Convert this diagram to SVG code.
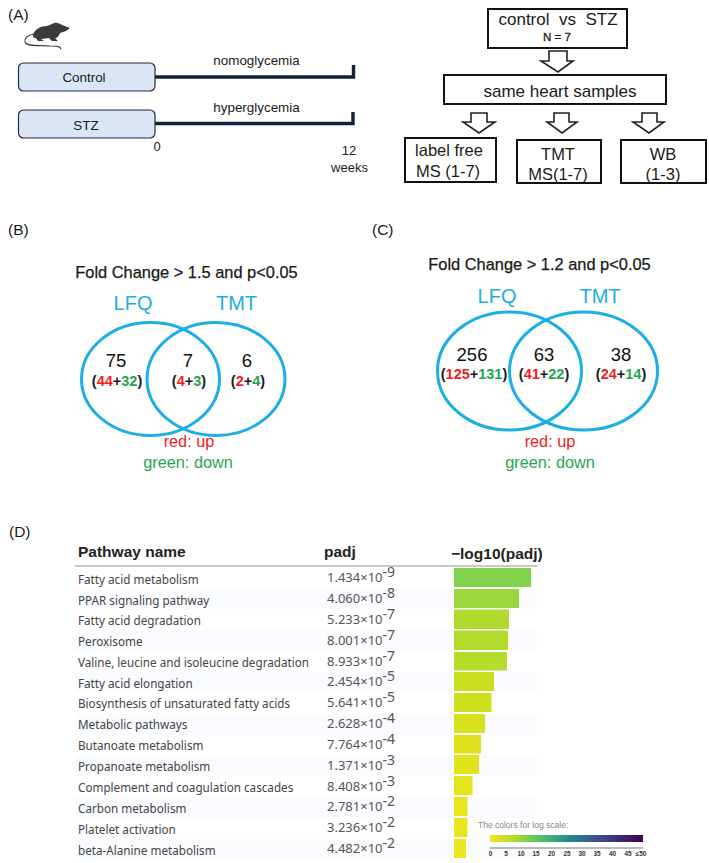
<svg xmlns="http://www.w3.org/2000/svg" width="709" height="863" viewBox="0 0 709 863">
<style>
text{font-family:"Liberation Sans",Arial,sans-serif;fill:#1a1a1a;white-space:pre}
.m{text-anchor:middle}
.pl{font-size:15.5px}
.gr{fill:#dbe5f5;stroke:#1d2a44;stroke-width:1.2}
.box{fill:#fff;stroke:#111;stroke-width:2}
.t13{font-size:13.4px}
.t17{font-size:17px}
.line{fill:none;stroke:#14213d;stroke-width:3.4}
.harrow{fill:#fff;stroke:#222;stroke-width:1.6}
.venn{fill:none;stroke:#1caee4;stroke-width:3}
.vl{font-size:20px;fill:#1caee4}
.ti{font-size:16.4px;stroke:#111;stroke-width:.25}
.n{font-size:18.500px;fill:#111}
.s{font-size:14.500px;font-weight:bold}
.r{fill:#f01c24}.g{fill:#1fa750}
.lr{font-size:16.300px;fill:#f01c24}.lg{font-size:16.300px;fill:#1fa750}
.h{font-size:15.500px;font-weight:bold;fill:#222}
.p{font-family:"Noto Sans","Open Sans",sans-serif;font-size:11.7px;fill:#444}
.v{font-family:"Noto Sans","Open Sans",sans-serif;font-size:13px;fill:#555}
.e{font-size:14px;fill:#555}
.tick{font-size:6.5px;font-weight:bold;fill:#333;text-anchor:middle}
</style>
<defs>
<linearGradient id="scale" x1="0" x2="1" y1="0" y2="0">
<stop offset="0" stop-color="#f5e524"/><stop offset=".15" stop-color="#b5dc2b"/><stop offset=".3" stop-color="#5ec962"/><stop offset=".5" stop-color="#21918c"/><stop offset=".7" stop-color="#3b528b"/><stop offset="1" stop-color="#440154"/>
</linearGradient>
</defs>
<rect width="709" height="863" fill="#fff"/>

<g id="panel-labels">
<text class="pl" x="8" y="20">(A)</text>
<text class="pl" x="8" y="235">(B)</text>
<text class="pl" x="372" y="235">(C)</text>
<text class="pl" x="9" y="537">(D)</text>
</g>

<g id="mouse">
<path fill="#3a3a3c" d="M33 36C34 29 41 26 47 26C50 25 52 24 54 23C57 22 60 24 62 25L70 28L66 31L60 33C59 36 57 38 55 38L58 41L52 41L49 38L41 39L44 41L38 41L36 38C34 38 33 37 33 36Z"/>
<path fill="none" stroke="#3a3a3c" stroke-width="1.1" d="M34 34C27 35 24 39 25 42C27 47 40 45 50 46C56 46 60 46 61 49"/>
</g>

<g id="connectors">
<path class="line" d="M155 77H353.500V65"/>
<path class="line" d="M155 123.500H353V112"/>
<polygon class="harrow" points="549,51 567,51 567,61 573,61 558,72 541,61 549,61"/>
<polygon class="harrow" points="471,113 487,113 487,122 495,122 479,133 463,122 471,122"/>
<polygon class="harrow" points="554,113 569,113 569,122 577,122 562,133 547,122 554,122"/>
<polygon class="harrow" points="642,113 657,113 657,122 664,122 649,133 633,122 642,122"/>
</g>

<g id="control">
<rect class="gr" x="18.500" y="63" width="136.500" height="28" rx="5"/>
<text class="m t13" x="84" y="82">Control</text>
</g>
<g id="stz">
<rect class="gr" x="18.500" y="110" width="136.500" height="28" rx="5"/>
<text class="m t13" x="86" y="130">STZ</text>
</g>
<g id="timeline-labels">
<text class="m t13" x="256.500" y="65">nomoglycemia</text>
<text class="m t13" x="256.500" y="112">hyperglycemia</text>
<text class="m" font-size="13" x="157" y="151">0</text>
<text class="m" font-size="13" x="349" y="155">12</text>
<text class="m" font-size="13" x="349.500" y="172">weeks</text>
</g>

<g id="control-vs-stz">
<rect class="box" x="488" y="9" width="139" height="39"/>
<text class="m" font-size="17" x="558" y="25">control  vs  STZ</text>
<text class="m" font-size="11.500" x="557" y="41" stroke="#1a1a1a" stroke-width=".3">N = 7</text>
</g>
<g id="same-heart-samples">
<rect class="box" x="444" y="75" width="222" height="29"/>
<text class="m t17" x="560" y="97">same heart samples</text>
</g>
<g id="label-free">
<rect class="box" x="405" y="138" width="91" height="44"/>
<text class="m" font-size="16.500" x="449" y="156">label free</text>
<text class="m" font-size="16.500" x="448" y="177">MS (1-7)</text>
</g>
<g id="tmt">
<rect class="box" x="517" y="140" width="84" height="43"/>
<text class="m" font-size="16.500" x="558" y="160">TMT</text>
<text class="m" font-size="16.500" x="558" y="180">MS(1-7)</text>
</g>
<g id="wb">
<rect class="box" x="621" y="140" width="85" height="43"/>
<text class="m" font-size="16.500" x="663" y="160">WB</text>
<text class="m" font-size="16.500" x="663" y="180">(1-3)</text>
</g>

<g id="venn-b">
<text class="m ti" x="186.500" y="278">Fold Change &gt; 1.5 and p&lt;0.05</text>
<text class="m vl" x="133" y="310">LFQ</text>
<text class="m vl" x="236.500" y="310">TMT</text>
<ellipse class="venn" cx="150.500" cy="379" rx="69" ry="56.500"/>
<ellipse class="venn" cx="216" cy="379" rx="69" ry="56.500"/>
<text class="m n" x="116" y="367">75</text>
<text class="m n" x="188" y="367">7</text>
<text class="m n" x="247" y="367">6</text>
<text class="m s" x="117" y="386">(<tspan class="r">44</tspan>+<tspan class="g">32</tspan>)</text>
<text class="m s" x="189" y="386">(<tspan class="r">4</tspan>+<tspan class="g">3</tspan>)</text>
<text class="m s" x="248" y="386">(<tspan class="r">2</tspan>+<tspan class="g">4</tspan>)</text>
<text class="m lr" x="189" y="447">red: up</text>
<text class="m lg" x="188" y="468">green: down</text>
</g>

<g id="venn-c">
<text class="m ti" x="539.500" y="270">Fold Change &gt; 1.2 and p&lt;0.05</text>
<text class="m vl" x="497" y="303">LFQ</text>
<text class="m vl" x="600" y="303">TMT</text>
<ellipse class="venn" cx="509.500" cy="371" rx="72" ry="59"/>
<ellipse class="venn" cx="583.500" cy="371" rx="74" ry="59"/>
<text class="m n" x="472" y="361">256</text>
<text class="m n" x="544" y="361">63</text>
<text class="m n" x="621" y="361">38</text>
<text class="m s" x="474" y="379">(<tspan class="r">125</tspan>+<tspan class="g">131</tspan>)</text>
<text class="m s" x="544" y="379">(<tspan class="r">41</tspan>+<tspan class="g">22</tspan>)</text>
<text class="m s" x="621" y="379">(<tspan class="r">24</tspan>+<tspan class="g">14</tspan>)</text>
<text class="m lr" x="550" y="447">red: up</text>
<text class="m lg" x="550" y="468">green: down</text>
</g>

<g id="pathway-table">
<g fill="#f9fbfe">
<rect x="75" y="589" width="462" height="20"/>
<rect x="75" y="630" width="462" height="21"/>
<rect x="75" y="672" width="462" height="21"/>
<rect x="75" y="714" width="462" height="21"/>
<rect x="75" y="755" width="462" height="21"/>
<rect x="75" y="797" width="462" height="21"/>
<rect x="75" y="839" width="462" height="19"/>
</g>
<rect x="75" y="565" width="462" height="2" fill="#c8c8ca"/>
<text class="h" x="78" y="557">Pathway name</text>
<text class="h" x="324" y="557">padj</text>
<text class="h" x="451" y="559">−log10(padj)</text>
<g>
<text class="p" x="78" y="584">Fatty acid metabolism</text>
<text class="p" x="78" y="605">PPAR signaling pathway</text>
<text class="p" x="78" y="625">Fatty acid degradation</text>
<text class="p" x="78" y="646">Peroxisome</text>
<text class="p" x="78" y="667">Valine, leucine and isoleucine degradation</text>
<text class="p" x="78" y="688">Fatty acid elongation</text>
<text class="p" x="78" y="708">Biosynthesis of unsaturated fatty acids</text>
<text class="p" x="78" y="729">Metabolic pathways</text>
<text class="p" x="78" y="750">Butanoate metabolism</text>
<text class="p" x="78" y="771">Propanoate metabolism</text>
<text class="p" x="78" y="792">Complement and coagulation cascades</text>
<text class="p" x="78" y="813">Carbon metabolism</text>
<text class="p" x="78" y="834">Platelet activation</text>
<text class="p" x="78" y="855">beta-Alanine metabolism</text>
</g>
<g>
<text class="v" x="327" y="582">1.434×10<tspan class="e" dy="-5">-9</tspan></text>
<text class="v" x="327" y="603">4.060×10<tspan class="e" dy="-5">-8</tspan></text>
<text class="v" x="327" y="624">5.233×10<tspan class="e" dy="-5">-7</tspan></text>
<text class="v" x="327" y="645">8.001×10<tspan class="e" dy="-5">-7</tspan></text>
<text class="v" x="327" y="666">8.933×10<tspan class="e" dy="-5">-7</tspan></text>
<text class="v" x="327" y="686">2.454×10<tspan class="e" dy="-5">-5</tspan></text>
<text class="v" x="327" y="707">5.641×10<tspan class="e" dy="-5">-5</tspan></text>
<text class="v" x="327" y="728">2.628×10<tspan class="e" dy="-5">-4</tspan></text>
<text class="v" x="327" y="749">7.764×10<tspan class="e" dy="-5">-4</tspan></text>
<text class="v" x="327" y="770">1.371×10<tspan class="e" dy="-5">-3</tspan></text>
<text class="v" x="327" y="791">8.408×10<tspan class="e" dy="-5">-3</tspan></text>
<text class="v" x="327" y="811">2.781×10<tspan class="e" dy="-5">-2</tspan></text>
<text class="v" x="327" y="832">3.236×10<tspan class="e" dy="-5">-2</tspan></text>
<text class="v" x="327" y="853">4.482×10<tspan class="e" dy="-5">-2</tspan></text>
</g>
</g>

<g id="bars">
<rect x="454" y="568" width="77" height="19" fill="#82d24b"/>
<rect x="454" y="589" width="65" height="19" fill="#9bd63c"/>
<rect x="454" y="609.500" width="55" height="19.500" fill="#b0da2e"/>
<rect x="454" y="630.500" width="54" height="19.500" fill="#b3db2c"/>
<rect x="454" y="652" width="53" height="18.500" fill="#b5dc2b"/>
<rect x="454" y="672" width="40" height="19" fill="#ccdf1f"/>
<rect x="454" y="693" width="37.500" height="19" fill="#cfe01e"/>
<rect x="454" y="714" width="31" height="19" fill="#d8e11d"/>
<rect x="454" y="735" width="27" height="18.500" fill="#dee21c"/>
<rect x="454" y="755" width="25" height="19" fill="#e0e31c"/>
<rect x="454" y="776" width="18.500" height="19" fill="#e6e41c"/>
<rect x="454" y="797" width="13.500" height="19" fill="#ebe51c"/>
<rect x="454" y="818" width="13.500" height="19" fill="#ebe51c"/>
<rect x="454" y="839" width="12" height="19" fill="#eee51c"/>
</g>

<g id="legend">
<text x="478" y="828" font-size="8.500" style="fill:#888">The colors for log scale:</text>
<rect x="490" y="835" width="153" height="7" fill="url(#scale)"/>
<rect x="490" y="847.500" width="153" height="1" fill="#777"/>
<text class="tick" x="490.500" y="856">0</text>
<text class="tick" x="506" y="856">5</text>
<text class="tick" x="521" y="856">10</text>
<text class="tick" x="536" y="856">15</text>
<text class="tick" x="551.500" y="856">20</text>
<text class="tick" x="567" y="856">25</text>
<text class="tick" x="582" y="856">30</text>
<text class="tick" x="597" y="856">35</text>
<text class="tick" x="612.500" y="856">40</text>
<text class="tick" x="628" y="856">45</text>
<text class="tick" x="641" y="856">≤50</text>
</g>
</svg>
